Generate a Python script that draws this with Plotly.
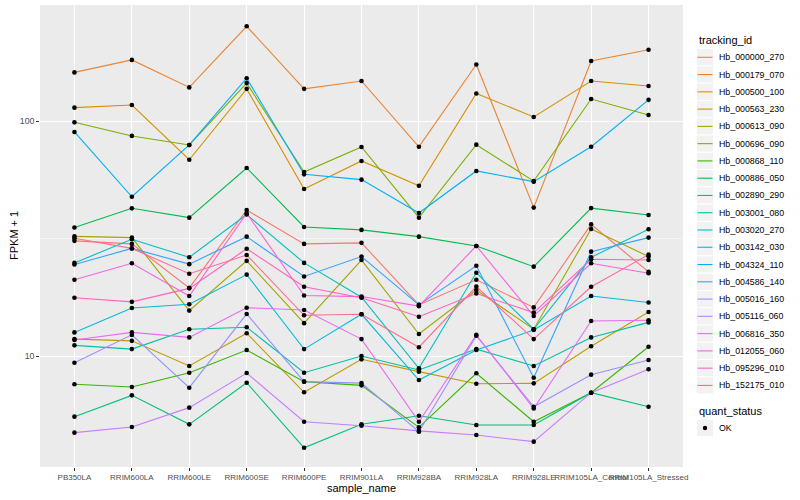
import plotly.graph_objects as go

# ---------------- data ----------------
samples = ["PB350LA", "RRIM600LA", "RRIM600LE", "RRIM600SE", "RRIM600PE", "RRIM901LA",
           "RRIM928BA", "RRIM928LA", "RRIM928LE", "RRIM105LA_Control", "RRIM105LA_Stressed"]

tracking_ids = ["Hb_000000_270", "Hb_000179_070", "Hb_000500_100", "Hb_000563_230",
                "Hb_000613_090", "Hb_000696_090", "Hb_000868_110", "Hb_000886_050",
                "Hb_002890_290", "Hb_003001_080", "Hb_003020_270", "Hb_003142_030",
                "Hb_004324_110", "Hb_004586_140", "Hb_005016_160", "Hb_005116_060",
                "Hb_006816_350", "Hb_012055_060", "Hb_095296_010", "Hb_152175_010"]

colors = ["#F8766D", "#EA8331", "#D89000", "#C09B00", "#A3A500", "#7CAE00", "#39B600",
          "#00BB4E", "#00BF7D", "#00C1A3", "#00BFC4", "#00BAE0", "#00B0F6", "#35A2FF",
          "#9590FF", "#C77CFF", "#E76BF3", "#FA62DB", "#FF62BC", "#FF6C90"]

# FPKM + 1 per sample (same order as samples)
Hb_000000_270 = [30.9, 30.0, 19.5, 41.8, 30.0, 30.3, 16.5, 21.1, 16.1, 36.3, 22.8]
Hb_000179_070 = [161, 182, 139, 253, 137, 148, 77.7, 174, 42.8, 180, 201]
Hb_000500_100 = [114, 117, 68.4, 137, 51.4, 67.6, 53.0, 131, 104, 148, 141]
Hb_000563_230 = [11.8, 11.6, 9.07, 12.5, 7.01, 9.68, 8.58, 7.62, 7.65, 11.0, 15.4]
Hb_000613_090 = [32.3, 31.9, 15.6, 25.4, 13.8, 25.6, 12.4, 19.1, 13.0, 34.7, 26.5]
Hb_000696_090 = [98.7, 86.4, 79.1, 145, 60.7, 77.5, 38.8, 79.3, 55.5, 124, 106]
Hb_000868_110 = [7.58, 7.38, 8.49, 10.6, 7.78, 7.50, 4.97, 8.44, 5.25, 6.98, 10.95]
Hb_000886_050 = [35.2, 42.5, 38.8, 63.1, 35.4, 34.4, 32.2, 29.4, 24.0, 42.6, 39.8]
Hb_002890_290 = [5.52, 6.80, 5.12, 7.70, 4.07, 5.12, 5.57, 5.09, 5.09, 6.98, 6.08]
Hb_003001_080 = [11.1, 10.7, 13.0, 13.25, 8.49, 10.0, 8.72, 10.7, 9.07, 12.0, 13.9]
Hb_003020_270 = [24.9, 31.4, 26.3, 40.0, 24.9, 17.8, 8.86, 22.6, 13.0, 26.3, 34.6]
Hb_003142_030 = [12.6, 16.0, 16.6, 22.2, 10.7, 15.05, 7.90, 10.6, 12.9, 18.0, 16.9]
Hb_004324_110 = [89.8, 47.6, 79.1, 152, 59.3, 56.3, 40.6, 61.3, 55.2, 77.7, 123]
Hb_004586_140 = [24.5, 28.7, 24.6, 32.2, 21.8, 26.5, 16.5, 24.2, 8.08, 27.8, 31.9]
Hb_005016_160 = [9.36, 12.3, 7.33, 15.1, 7.78, 7.67, 4.76, 12.2, 6.08, 8.33, 9.62]
Hb_005116_060 = [4.72, 4.99, 6.03, 8.46, 5.25, 5.05, 4.80, 4.61, 4.32, 6.98, 8.78]
Hb_006816_350 = [11.7, 12.6, 12.0, 16.05, 15.7, 11.8, 5.25, 12.3, 5.98, 14.1, 14.2]
Hb_012055_060 = [21.1, 24.8, 18.0, 40.5, 18.1, 17.9, 16.3, 29.4, 14.8, 24.8, 22.5]
Hb_095296_010 = [17.7, 17.0, 19.4, 28.6, 19.7, 17.7, 14.7, 18.45, 15.3, 25.8, 25.6]
Hb_152175_010 = [31.7, 28.7, 22.4, 26.9, 14.9, 15.05, 10.9, 19.75, 11.8, 19.7, 27.0]

series = [Hb_000000_270, Hb_000179_070, Hb_000500_100, Hb_000563_230, Hb_000613_090,
          Hb_000696_090, Hb_000868_110, Hb_000886_050, Hb_002890_290, Hb_003001_080,
          Hb_003020_270, Hb_003142_030, Hb_004324_110, Hb_004586_140, Hb_005016_160,
          Hb_005116_060, Hb_006816_350, Hb_012055_060, Hb_095296_010, Hb_152175_010]

quant_status = ["OK"]

y_ticks = [10, 100]
y_tick_labels = ["10", "100"]

# ---------------- layout geometry (pixels) ----------------
W, H = 800, 500
PL, PR, PT, PB = 40, 683, 5, 467
FONT = "Liberation Sans"
NARROW = "Liberation Sans Narrow, Liberation Sans"


def px(x):
    return (x - PL) / (PR - PL)


def py(y):
    return (PB - y) / (PB - PT)


fig = go.Figure()

for name, vals, col in zip(tracking_ids, series, colors):
    fig.add_trace(go.Scatter(x=samples, y=vals, mode="lines", name=name,
                             line=dict(color=col, width=1.1), showlegend=False,
                             hoverinfo="skip"))

# black points on top
for name, vals in zip(tracking_ids, series):
    fig.add_trace(go.Scatter(x=samples, y=vals, mode="markers", name=quant_status[0],
                             marker=dict(color="black", size=4.6, symbol="circle"),
                             showlegend=False))

shapes = []
annotations = []

# minor gridline (log midpoint)
shapes.append(dict(type="line", xref="paper", yref="y", x0=0, x1=1,
                   y0=10 ** 1.5, y1=10 ** 1.5, line=dict(color="white", width=0.55),
                   layer="below"))

# ---------------- manual ggplot-like legend ----------------
key_x0, key_x1 = 696.5, 713.5
text_x = 716.5
first_y, step = 57.3, 17.27

annotations.append(dict(text="tracking_id", xref="paper", yref="paper",
                        x=px(696.5), y=py(40), xanchor="left", yanchor="middle",
                        showarrow=False, font=dict(size=11, color="black", family=FONT)))

for i, (name, col) in enumerate(zip(tracking_ids, colors)):
    yc = first_y + i * step
    shapes.append(dict(type="rect", xref="paper", yref="paper",
                       x0=px(key_x0), x1=px(key_x1), y0=py(yc - step / 2), y1=py(yc + step / 2),
                       fillcolor="#F2F2F2", line=dict(color="white", width=1)))
    shapes.append(dict(type="line", xref="paper", yref="paper",
                       x0=px(key_x0 + 1), x1=px(key_x1 - 1), y0=py(yc), y1=py(yc),
                       line=dict(color=col, width=1.1)))
    annotations.append(dict(text=name, xref="paper", yref="paper",
                            x=px(text_x), y=py(yc), xanchor="left", yanchor="middle",
                            showarrow=False, font=dict(size=8.8, color="black", family=FONT)))

q_title_y = 411
q_key_y = 428
annotations.append(dict(text="quant_status", xref="paper", yref="paper",
                        x=px(696.5), y=py(q_title_y), xanchor="left", yanchor="middle",
                        showarrow=False, font=dict(size=11, color="black", family=FONT)))
shapes.append(dict(type="rect", xref="paper", yref="paper",
                   x0=px(key_x0), x1=px(key_x1), y0=py(q_key_y - step / 2), y1=py(q_key_y + step / 2),
                   fillcolor="#F2F2F2", line=dict(color="white", width=1)))
kc = (key_x0 + key_x1) / 2
shapes.append(dict(type="circle", xref="paper", yref="paper",
                   x0=px(kc - 2.2), x1=px(kc + 2.2), y0=py(q_key_y - 2.2), y1=py(q_key_y + 2.2),
                   fillcolor="black", line=dict(color="black", width=0)))
annotations.append(dict(text=quant_status[0], xref="paper", yref="paper",
                        x=px(text_x), y=py(q_key_y), xanchor="left", yanchor="middle",
                        showarrow=False, font=dict(size=8.8, color="black", family=FONT)))

# axis titles
annotations.append(dict(text="sample_name", xref="paper", yref="paper",
                        x=0.5, y=py(488), xanchor="center", yanchor="middle",
                        showarrow=False, font=dict(size=11, color="black", family=FONT)))
annotations.append(dict(text="FPKM + 1", xref="paper", yref="paper",
                        x=px(14), y=0.5, xanchor="center", yanchor="middle", textangle=-90,
                        showarrow=False, font=dict(size=11, color="black", family=FONT)))

fig.update_layout(
    width=W, height=H,
    margin=dict(l=PL, r=W - PR, t=PT, b=H - PB, pad=0),
    paper_bgcolor="white",
    plot_bgcolor="#EBEBEB",
    font=dict(family=FONT, size=8.8, color="#4D4D4D"),
    showlegend=False,
    shapes=shapes,
    annotations=annotations,
    xaxis=dict(type="category", categoryorder="array", categoryarray=samples,
               range=[-0.6, len(samples) - 0.4], showgrid=True, gridcolor="white",
               gridwidth=1.1, zeroline=False, showline=False, ticks="outside",
               ticklen=2.75, tickwidth=1, tickcolor="#333333", tickangle=0,
               tickfont=dict(size=8, color="#4D4D4D", family=NARROW), fixedrange=True),
    yaxis=dict(type="log", range=[0.5277, 2.4936], tickvals=y_ticks, ticktext=y_tick_labels,
               showgrid=True, gridcolor="white", gridwidth=1.1, zeroline=False,
               showline=False, ticks="outside", ticklen=2.75, tickwidth=1,
               tickcolor="#333333", tickfont=dict(size=8.8, color="#4D4D4D", family=FONT),
               fixedrange=True),
)

fig.write_html("out.html", config={"displayModeBar": False},
               post_script="document.body.style.margin='0px';document.body.style.padding='0px';")
